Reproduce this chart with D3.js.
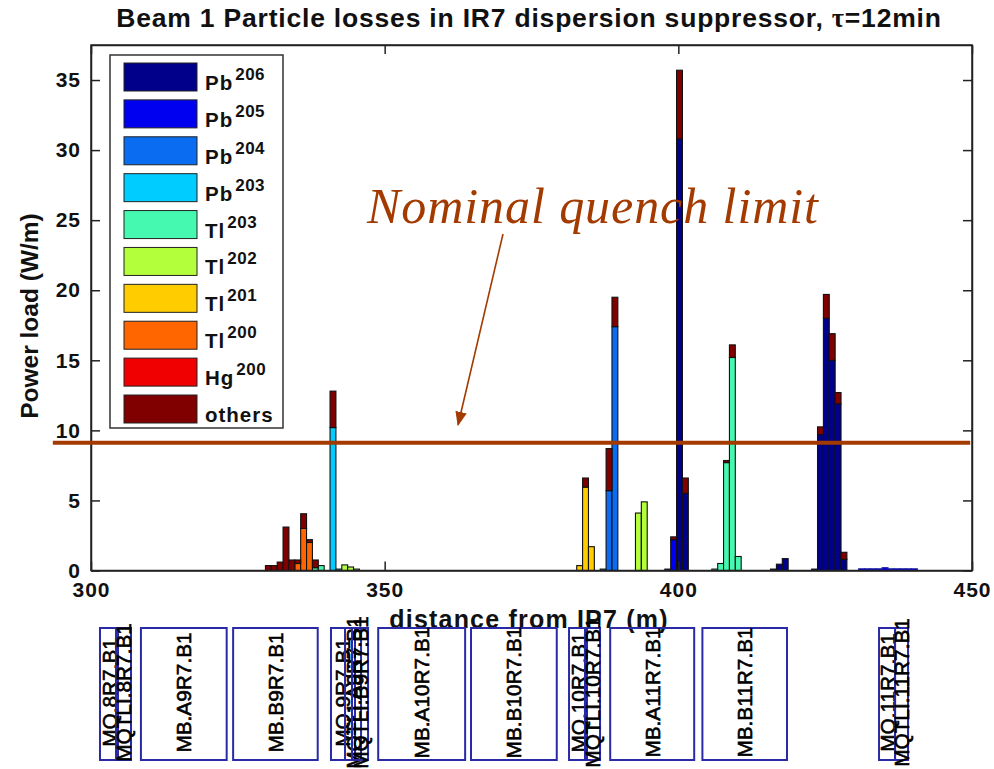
<!DOCTYPE html>
<html>
<head>
<meta charset="utf-8">
<title>Beam 1 Particle losses</title>
<script src="https://cdn.jsdelivr.net/npm/d3@7"></script>
<style>
  body { margin: 0; background: #fff; }
  svg { display: block; }
  text { font-family: "Liberation Sans", Arial, sans-serif; fill: #111; }
  .axis text { font-size: 21px; font-weight: bold; letter-spacing: 1px; }
  .axis path, .axis line { stroke: #222; stroke-width: 1.5; }
  .magnet rect { fill: none; stroke: #2a2aa6; stroke-width: 2; }
  .magnet text { font-size: 20.8px; fill: #000; stroke: #000; stroke-width: 0.6; }
</style>
</head>
<body>
<svg id="chart" width="994" height="769"></svg>
<script>
const seriesNames = ['Pb206', 'Pb205', 'Pb204', 'Pb203', 'Tl203', 'Tl202', 'Tl201', 'Tl200', 'Hg200', 'others'];
const legendElements = ['Pb', 'Pb', 'Pb', 'Pb', 'Tl', 'Tl', 'Tl', 'Tl', 'Hg', 'others'];
const legendMasses = ['206', '205', '204', '203', '203', '202', '201', '200', '200', ''];
const seriesColors = ['#00008a', '#0000f0', '#0a6cf0', '#00ccff', '#46f9b0', '#b4ff3c', '#ffcc00', '#ff6600', '#f00000', '#800000'];

// bin centres (m), only the bins that hold anything
const bins = [330.2, 331.2, 332.2, 333.2, 334.2, 335.2, 336.2, 337.2, 338.2, 339.2, 341.2, 342.2, 343.2, 344.2, 345.2,
  383.2, 384.2, 385.2, 387.2, 388.2, 389.2, 393.2, 394.2, 398.2, 399.2, 400.2, 401.2,
  406.2, 407.2, 408.2, 409.2, 410.2, 416.2, 417.2, 418.2, 423.2, 424.2, 425.2, 426.2, 427.2, 428.2,
  431.2, 432.2, 433.2, 434.2, 435.2, 436.2, 437.2, 438.2, 439.2, 440.2];

const pb206 = [0, 0, 0, 0, 0, 0, 0, 0, 0, 0, 0, 0, 0, 0, 0,
  0, 0, 0, 0, 0, 0, 0, 0, 0, 0, 30.8, 5.5,
  0, 0, 0, 0, 0, .1, .45, .85, .1, 9.7, 18, 15, 11.9, .8,
  0, 0, 0, 0, 0, 0, 0, 0, 0, 0];
const pb205 = [0, 0, 0, 0, 0, 0, 0, 0, 0, 0, 0, 0, 0, 0, 0,
  0, 0, 0, 0, 0, 0, 0, 0, .1, 2.2, 0, 0,
  0, 0, 0, 0, 0, 0, 0, 0, 0, 0, 0, 0, 0, 0,
  .12, .12, .12, .12, .2, .12, .12, .12, .12, .12];
const pb204 = [0, 0, 0, 0, 0, 0, 0, 0, 0, 0, 0, 0, 0, 0, 0,
  0, 0, 0, .1, 5.7, 17.4, 0, 0, 0, 0, 0, 0,
  0, 0, 0, 0, 0, 0, 0, 0, 0, 0, 0, 0, 0, 0,
  0, 0, 0, 0, 0, 0, 0, 0, 0, 0];
const pb203 = [0, 0, 0, 0, 0, 0, 0, 0, 0, 0, 10.2, .1, 0, 0, 0,
  0, 0, 0, 0, 0, 0, 0, 0, 0, 0, 0, 0,
  0, 0, 0, 0, 0, 0, 0, 0, 0, 0, 0, 0, 0, 0,
  0, 0, 0, 0, 0, 0, 0, 0, 0, 0];
const tl203 = [0, 0, 0, 0, 0, 0, 0, 0, .2, .35, 0, 0, 0, 0, 0,
  0, 0, 0, 0, 0, 0, 0, 0, 0, 0, 0, 0,
  .1, .5, 7.7, 15.2, 1, 0, 0, 0, 0, 0, 0, 0, 0, 0,
  0, 0, 0, 0, 0, 0, 0, 0, 0, 0];
const tl202 = [0, 0, 0, 0, 0, 0, 0, 0, 0, 0, 0, 0, .4, .25, .1,
  0, 0, 0, 0, 0, 0, 4.1, 4.9, 0, 0, 0, 0,
  0, 0, 0, 0, 0, 0, 0, 0, 0, 0, 0, 0, 0, 0,
  0, 0, 0, 0, 0, 0, 0, 0, 0, 0];
const tl201 = [0, 0, 0, 0, 0, 0, 0, 0, 0, 0, 0, 0, 0, 0, 0,
  .35, 5.95, 1.7, 0, 0, 0, 0, 0, 0, 0, 0, 0,
  0, 0, 0, 0, 0, 0, 0, 0, 0, 0, 0, 0, 0, 0,
  0, 0, 0, 0, 0, 0, 0, 0, 0, 0];
const tl200 = [0, 0, 0, 0, 0, .5, 3, 2, 0, 0, 0, 0, 0, 0, 0,
  0, 0, 0, 0, 0, 0, 0, 0, 0, 0, 0, 0,
  0, 0, 0, 0, 0, 0, 0, 0, 0, 0, 0, 0, 0, 0,
  0, 0, 0, 0, 0, 0, 0, 0, 0, 0];
const hg200 = bins.map(() => 0);
const others = [.35, .35, .6, 3.1, .75, .25, 1.05, .2, .55, 0, 2.6, 0, 0, 0, 0,
  0, .65, 0, 0, 3, 2.1, 0, 0, 0, .2, 4.9, 1.1,
  0, 0, .15, .9, 0, 0, 0, 0, 0, .55, 1.7, 1.9, .8, .5,
  0, 0, 0, 0, 0, 0, 0, 0, 0, 0];
const seriesValues = [pb206, pb205, pb204, pb203, tl203, tl202, tl201, tl200, hg200, others];

const xTicks = [300, 350, 400, 450];
const yTicks = [0, 5, 10, 15, 20, 25, 30, 35];
const quenchLimit = 9.12;

const magnetNames = ['MQ.8R7.B1', 'MQTLI.8R7.B1', 'MB.A9R7.B1', 'MB.B9R7.B1', 'MQ.9R7.B1', 'MQTLI.A9R7.B1', 'MQTLI.B9R7.B1',
  'MB.A10R7.B1', 'MB.B10R7.B1', 'MQ.10R7.B1', 'MQTLI.10R7.B1', 'MB.A11R7.B1', 'MB.B11R7.B1', 'MQ.11R7.B1', 'MQTLI.11R7.B1'];
const magnetStart = [301.53, 304.26, 308.5, 324.2, 340.86, 343.25, 344.44, 348.9, 364.7, 381.39, 384.11, 388.4, 404.1, 434.17, 436.9];
const magnetEnd = [304.6, 306.81, 323.1, 338.6, 344.95, 345.98, 347.17, 363.7, 379.3, 384.45, 386.67, 402.7, 418.5, 436.9, 439.11];

const svg = d3.select('#chart');
const plot = { left: 91, right: 972, top: 45, bottom: 570.5 };
const brown = '#a33a00';

const x = d3.scaleLinear().domain([300, 450]).range([plot.left, plot.right]);
const y = d3.scaleLinear().domain([0, 37.5]).range([plot.bottom, plot.top]);

// title
const title = svg.append('text')
  .attr('x', 529).attr('y', 27)
  .attr('text-anchor', 'middle')
  .style('font-size', '26.5px').style('font-weight', 'bold')
  .style('letter-spacing', '0.8px');
title.append('tspan').text('Beam 1 Particle losses in IR7 dispersion suppressor, ');
title.append('tspan').style('font-family', '"Liberation Serif", serif').text('τ');
title.append('tspan').text('=12min');

// stacked bars
const rows = bins.map((b, i) => {
  const row = { bin: b };
  seriesNames.forEach((name, s) => { row[name] = seriesValues[s][i]; });
  return row;
});
const stacked = d3.stack().keys(seriesNames)(rows);

svg.append('g').selectAll('g')
  .data(stacked)
  .join('g')
  .attr('fill', (d, i) => seriesColors[i])
  .selectAll('rect')
  .data(d => d.filter(p => p[1] > p[0]))
  .join('rect')
  .attr('x', d => x(d.data.bin - 0.5))
  .attr('width', x(1) - x(0))
  .attr('y', d => y(d[1]))
  .attr('height', d => y(d[0]) - y(d[1]))
  .attr('stroke', d => d.data.bin > 430 ? '#1c1ca0' : '#111') // the low band past 430 m reads blue, not black
  .attr('stroke-width', 1.1);

// axes, ticks pointing inward on all four sides
svg.append('rect')
  .attr('x', plot.left).attr('y', plot.top)
  .attr('width', plot.right - plot.left).attr('height', plot.bottom - plot.top)
  .attr('fill', 'none').attr('stroke', '#222').attr('stroke-width', 1.5);

svg.append('g').attr('class', 'axis')
  .attr('transform', `translate(0,${plot.bottom})`)
  .call(d3.axisBottom(x).tickValues(xTicks).tickSizeInner(-9).tickSizeOuter(0).tickPadding(12));
svg.append('g').attr('class', 'axis')
  .attr('transform', `translate(${plot.left},0)`)
  .call(d3.axisLeft(y).tickValues(yTicks).tickSizeInner(-9).tickSizeOuter(0).tickPadding(10));
svg.append('g').attr('class', 'axis')
  .attr('transform', `translate(0,${plot.top})`)
  .call(d3.axisTop(x).tickValues(xTicks).tickSizeInner(-9).tickSizeOuter(0).tickFormat(''));
svg.append('g').attr('class', 'axis')
  .attr('transform', `translate(${plot.right},0)`)
  .call(d3.axisRight(y).tickValues(yTicks).tickSizeInner(-9).tickSizeOuter(0).tickFormat(''));

svg.append('text')
  .attr('transform', `translate(38,316) rotate(-90)`)
  .attr('text-anchor', 'middle')
  .style('font-size', '24.5px').style('font-weight', 'bold')
  .text('Power load (W/m)');

svg.append('text')
  .attr('x', 529).attr('y', 628)
  .attr('text-anchor', 'middle')
  .style('font-size', '25px').style('font-weight', 'bold')
  .style('letter-spacing', '1.2px')
  .text('distance from IP7 (m)');

// legend
const legendY = d3.scalePoint().domain(seriesNames).range([77, 409]);
const legend = svg.append('g');
legend.append('rect')
  .attr('x', 110).attr('y', 55)
  .attr('width', 173).attr('height', 373)
  .attr('fill', '#fff').attr('stroke', '#333').attr('stroke-width', 1.5);

const legendRows = legend.selectAll('g')
  .data(seriesNames)
  .join('g')
  .attr('transform', d => `translate(0,${legendY(d)})`);
legendRows.append('rect')
  .attr('x', 124).attr('y', -14)
  .attr('width', 73).attr('height', 28)
  .attr('fill', (d, i) => seriesColors[i])
  .attr('stroke', '#222').attr('stroke-width', 1);
const legendText = legendRows.append('text')
  .attr('x', 205).attr('y', 13)
  .style('font-size', '20.5px').style('font-weight', 'bold')
  .style('letter-spacing', '1px');
legendText.append('tspan').text((d, i) => legendElements[i]);
legendText.append('tspan')
  .attr('dx', 2).attr('dy', -10)
  .style('font-size', '17px').style('letter-spacing', '0.5px')
  .text((d, i) => legendMasses[i]);

// quench limit line and annotation
svg.append('line')
  .attr('x1', x(293.5)).attr('x2', x(449.7))
  .attr('y1', y(quenchLimit)).attr('y2', y(quenchLimit))
  .attr('stroke', brown).attr('stroke-width', 4);

svg.append('text')
  .attr('x', 367).attr('y', 223)
  .attr('textLength', 451).attr('lengthAdjust', 'spacing')
  .style('font-family', '"Liberation Serif", serif').style('font-style', 'italic')
  .style('font-size', '50px').style('fill', brown)
  .text('Nominal quench limit');

svg.append('defs').append('marker')
  .attr('id', 'head').attr('viewBox', '0 0 10 10')
  .attr('refX', 9).attr('refY', 5)
  .attr('markerWidth', 9).attr('markerHeight', 9)
  .attr('orient', 'auto')
  .append('path').attr('d', 'M0,1 L10,5 L0,9 Z').attr('fill', brown);
svg.append('line')
  .attr('x1', 503).attr('y1', 234)
  .attr('x2', x(362.5)).attr('y2', y(10.4))
  .attr('stroke', brown).attr('stroke-width', 1.6)
  .attr('marker-end', 'url(#head)');

// magnet layout under the plot
const magnets = svg.append('g').attr('class', 'magnet')
  .selectAll('g')
  .data(magnetNames)
  .join('g');
magnets.append('rect')
  .attr('x', (d, i) => x(magnetStart[i]))
  .attr('width', (d, i) => x(magnetEnd[i]) - x(magnetStart[i]))
  .attr('y', 628).attr('height', 132);
magnets.append('text')
  .attr('transform', (d, i) => `translate(${x((magnetStart[i] + magnetEnd[i]) / 2) + 7.5},692.5) rotate(-90)`)
  .attr('text-anchor', 'middle')
  .text(d => d);
</script>
</body>
</html>
